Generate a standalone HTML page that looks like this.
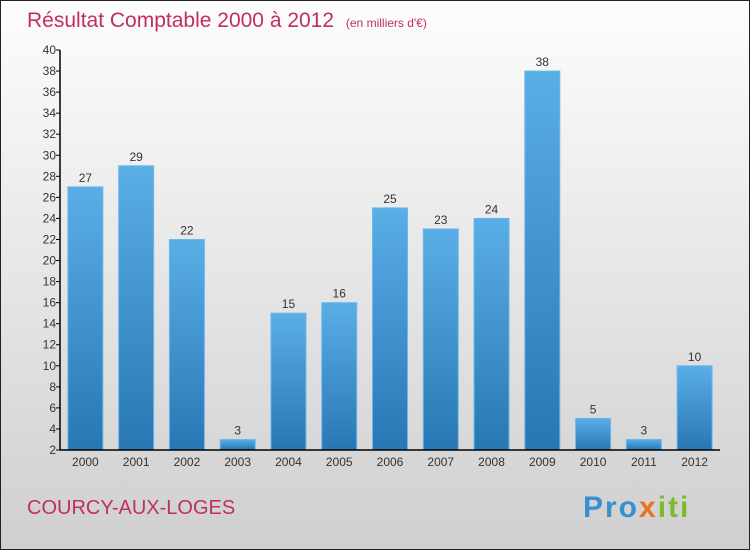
<!DOCTYPE html>
<html><head><meta charset="utf-8"><style>
body{margin:0;}
svg{display:block;font-family:"Liberation Sans",sans-serif;}
</style></head><body>
<svg id="c" width="750" height="550" viewBox="0 0 750 550">
<defs>
<linearGradient id="bg" x1="0" y1="0" x2="0" y2="1"><stop offset="0" stop-color="#fdfdfd"/><stop offset="1" stop-color="#cfcfcf"/></linearGradient>
<linearGradient id="bar" x1="0" y1="0" x2="0" y2="1"><stop offset="0" stop-color="#5aaee6"/><stop offset="1" stop-color="#2877b4"/></linearGradient>
</defs>
<rect x="0.5" y="0.5" width="749" height="549" fill="url(#bg)" stroke="#222"/>
<text x="27" y="27" font-size="21" fill="#c0305a">Résultat Comptable 2000 à 2012 <tspan font-size="12" dx="6">(en milliers d'€)</tspan></text>
<text x="27" y="514" font-size="20" fill="#c0305a">COURCY-AUX-LOGES</text>
<text x="583" y="517" font-size="30" font-weight="bold" letter-spacing="2" fill="#3a8fd0"><tspan fill="#3a8fd0">Pro</tspan><tspan fill="#e8731c">x</tspan><tspan fill="#7dbb2e">iti</tspan></text>
<g id="plot"></g>
</svg>
<script>
const categories=["2000","2001","2002","2003","2004","2005","2006","2007","2008","2009","2010","2011","2012"];
const values=[27,29,22,3,15,16,25,23,24,38,5,3,10];
const yTicks=[2,4,6,8,10,12,14,16,18,20,22,24,26,28,30,32,34,36,38,40];
const yMin=2,yMax=40,top0=50,bot=450,left=60,right=720;
const y=v=>bot-(v-yMin)/(yMax-yMin)*(bot-top0);
const step=(right-left)/categories.length;
const x=i=>left+step*(i+0.5);
const g=document.getElementById('plot');
const NS='http://www.w3.org/2000/svg';
function mk(t,a){const e=document.createElementNS(NS,t);for(const k in a)e.setAttribute(k,a[k]);g.appendChild(e);return e;}
values.forEach((v,i)=>{
  const r=mk('rect',{x:x(i)-17.5,y:y(v),width:35,height:bot-y(v),fill:'url(#bar)',stroke:'#6cb8ec','stroke-width':1});
  
  
  const t=mk('text',{x:x(i),y:y(v)-5,'font-size':12,'text-anchor':'middle',fill:'#333'});
  t.textContent=v;
  
  
  const c=mk('text',{x:x(i),y:bot+16,'font-size':12,'text-anchor':'middle',fill:'#333'});
  c.textContent=categories[i];
  
  
});
yTicks.forEach(v=>{
  const l=mk('line',{x1:left-4,x2:left,y1:y(v),y2:y(v),stroke:'#000'});
  
  
  const t=mk('text',{x:left-4,y:y(v)+4,'font-size':12,'text-anchor':'end',fill:'#333'});
  t.textContent=v;
  
  
});
const ya=mk('line',{x1:left,x2:left,y1:top0,y2:bot,stroke:'#000','stroke-width':1.5});


const xa=mk('line',{x1:left,x2:right,y1:bot,y2:bot,stroke:'#000','stroke-width':1.5});


</script>
</body></html>
